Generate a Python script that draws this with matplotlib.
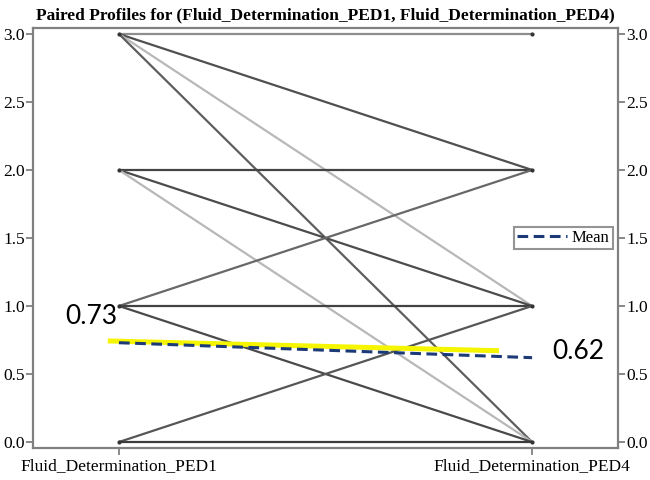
import matplotlib
matplotlib.use('Agg')
import matplotlib.pyplot as plt

# paired profiles: score at PED1 -> score at PED4
Categories = ['Fluid_Determination_PED1', 'Fluid_Determination_PED4']
PED1 = [3, 3, 3, 3, 2, 2, 2, 1, 1, 1, 0, 0]
PED4 = [3, 2, 1, 0, 2, 1, 0, 2, 1, 0, 1, 0]

# mean profile
Means = [0.73, 0.62]

# yellow highlighter stroke drawn on the figure
HighlightX = [-0.027, 0.92]
HighlightY = [0.743, 0.671]

# line shades (darker = more subjects)
Shades = ['#8e8e8e', '#505050', '#b8b8b8', '#5e5e5e', '#444444', '#4c4c4c',
          '#b8b8b8', '#686868', '#424242', '#4a4a4a', '#565656', '#3c3c3c']

fig = plt.figure(figsize=(6.5, 4.8), dpi=100)
ax = fig.add_axes([0.0508, 0.0667, 0.9, 0.875])

serif = 'Liberation Serif'

for a, b, c in zip(PED1, PED4, Shades):
    ax.plot([0, 1], [a, b], color=c, lw=1.6, solid_capstyle='butt', zorder=2)

ax.plot([0, 0, 0, 0, 1, 1, 1, 1], [0, 1, 2, 3, 0, 1, 2, 3], ls='none',
        marker='o', ms=2, color='#333333', zorder=3)

ax.plot(HighlightX, HighlightY, color='#f5f500', lw=3.6, solid_capstyle='butt', zorder=4)
ax.plot([0, 1], Means, color='#1c3a78', lw=2.2, dashes=(3.5, 1.8), zorder=5, label='Mean')

ax.text(-0.005, Means[0] + 0.19, '%.2f' % Means[0], ha='right', va='center',
        fontsize=19, family='Lato', color='black')
ax.text(1.048, Means[1] + 0.045, '%.2f' % Means[1], ha='left', va='center',
        fontsize=19, family='Lato', color='black')

ax.set_xlim(-0.208, 1.208)
ax.set_ylim(-0.044, 3.044)
ax.set_xticks([0, 1])
ax.set_xticklabels(Categories, family=serif, fontsize=12.5)
ax.set_yticks([0, 0.5, 1.0, 1.5, 2.0, 2.5, 3.0])
ax.set_yticklabels(['%.1f' % v for v in ax.get_yticks()], family=serif, fontsize=12.5)
ax.tick_params(axis='y', which='both', left=True, right=True, labelleft=True, labelright=True,
               length=5, width=1.3, color='#808080', pad=1)
ax.tick_params(axis='x', length=5, width=1.3, color='#808080', pad=2)

for s in ax.spines.values():
    s.set_color('#808080')
    s.set_linewidth(1.6)

ax.set_title('Paired Profiles for (Fluid_Determination_PED1, Fluid_Determination_PED4)',
             family=serif, fontweight='bold', fontsize=12.5, pad=6)

leg = ax.legend(loc='center right', bbox_to_anchor=(1.0, 0.5), frameon=True, fancybox=False,
                prop={'family': serif, 'size': 12}, handlelength=3.0, handletextpad=0.3,
                borderpad=0.2, borderaxespad=0.3)
leg.get_frame().set_edgecolor('#7a7a7a')
leg.get_frame().set_linewidth(1.5)

fig.savefig('out.png', dpi=100)
